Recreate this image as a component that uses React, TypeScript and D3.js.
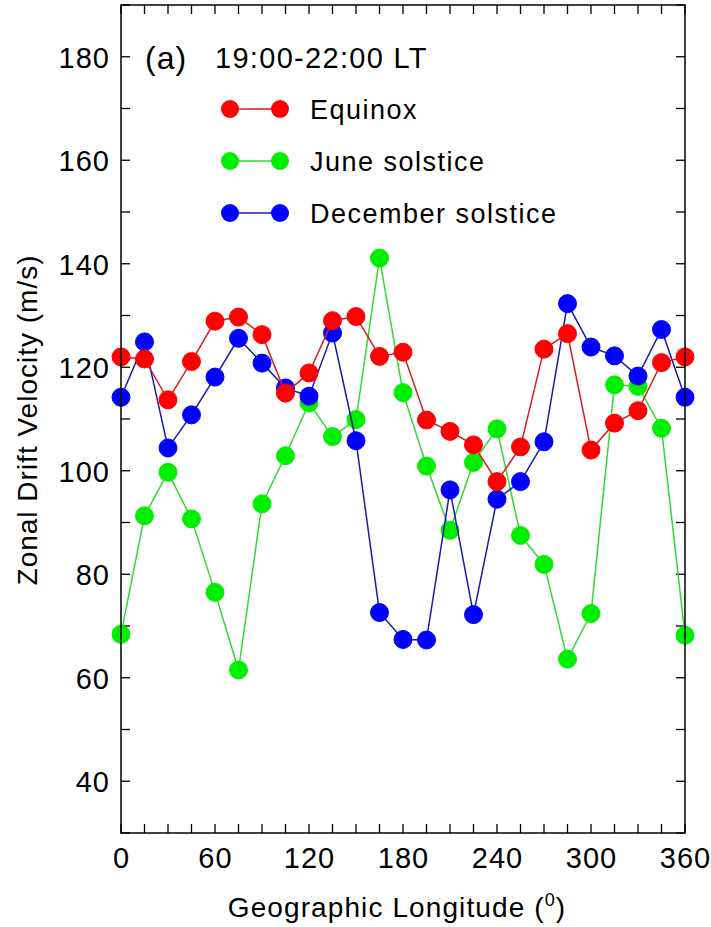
import React from 'react';
import * as d3 from 'd3';

// Longitudes every 15 degrees
const longitudes = d3.range(0, 361, 15);

const equinox = [122, 121.6, 113.7, 121.1, 128.9, 129.7, 126.3, 115, 118.9, 129, 129.8, 122.1, 122.9,
  109.8, 107.6, 105, 97.9, 104.6, 123.5, 126.5, 104, 109.2, 111.6, 120.9, 122];
const juneSolstice = [68.4, 91.3, 99.7, 90.7, 76.5, 61.5, 93.6, 102.9, 113.1, 106.6, 109.9, 141.1, 115.1,
  100.9, 88.5, 101.6, 108.1, 87.5, 81.9, 63.6, 72.4, 116.6, 116.3, 108.2, 68.2];
const decemberSolstice = [114.2, 124.9, 104.4, 110.8, 118.1, 125.6, 120.8, 116, 114.4, 126.6, 105.8, 72.6, 67.4,
  67.3, 96.3, 72.2, 94.5, 97.9, 105.6, 132.3, 123.9, 122.2, 118.3, 127.3, 114.2];

const seriesNames = ['Equinox', 'June solstice', 'December solstice'];
const xTickLabels = [0, 60, 120, 180, 240, 300, 360];
const yTickLabels = [40, 60, 80, 100, 120, 140, 160, 180];

const series = [
  { name: seriesNames[0], values: equinox, fill: '#ff0000', stroke: '#d02020' },
  { name: seriesNames[1], values: juneSolstice, fill: '#00ee00', stroke: '#33d833' },
  { name: seriesNames[2], values: decemberSolstice, fill: '#0000ff', stroke: '#1a1aa8' },
];

const left = 121, right = 685, top = 5, bottom = 833;
const FONT = 'Liberation Sans, Arial, sans-serif';

export default function App() {
  const x = d3.scaleLinear().domain([0, 360]).range([left, right]);
  const y = d3.scaleLinear().domain([30, 190]).range([bottom, top]);
  const line = d3.line<number>()
    .x((_, i) => x(longitudes[i]))
    .y(d => y(d));

  const xMinor = d3.range(0, 361, 15);
  const yMinor = d3.range(30, 191, 10);
  const tick = 9;

  // draw order: June (bottom), December, Equinox (top)
  const drawOrder = [series[1], series[2], series[0]];

  const legendY = [109, 161, 213];

  return (
    <svg width={711} height={927} style={{ position: 'absolute', left: 0, top: 0, background: '#fff' }}
      fontFamily={FONT}>
      <rect x={0} y={0} width={711} height={927} fill="#fff" />

      {/* ticks */}
      {xMinor.map(v => (
        <g key={'xt' + v}>
          <line x1={x(v)} x2={x(v)} y1={bottom} y2={bottom - tick} stroke="#000" strokeWidth={1.3} />
          <line x1={x(v)} x2={x(v)} y1={top} y2={top + tick} stroke="#000" strokeWidth={1.3} />
        </g>
      ))}
      {yMinor.map(v => (
        <g key={'yt' + v}>
          <line x1={left} x2={left + tick} y1={y(v)} y2={y(v)} stroke="#000" strokeWidth={1.3} />
          <line x1={right} x2={right - tick} y1={y(v)} y2={y(v)} stroke="#000" strokeWidth={1.3} />
        </g>
      ))}

      {/* data */}
      {drawOrder.map(s => (
        <g key={s.name}>
          <path d={line(s.values) || ''} fill="none" stroke={s.stroke} strokeWidth={1.5} />
          {s.values.map((v, i) => (
            <circle key={i} cx={x(longitudes[i])} cy={y(v)} r={9} fill={s.fill} stroke={s.fill} strokeWidth={1} />
          ))}
        </g>
      ))}

      {/* frame */}
      <rect x={left} y={top} width={right - left} height={bottom - top} fill="none" stroke="#000" strokeWidth={1.5} />

      {/* tick labels */}
      {xTickLabels.map(v => (
        <text key={'xl' + v} x={x(v) + 0.5} y={868} textAnchor="middle" fontSize={29} letterSpacing={1} fill="#000">{v}</text>
      ))}
      {yTickLabels.map(v => (
        <text key={'yl' + v} x={110} y={y(v) + 11} textAnchor="end" fontSize={29} letterSpacing={1} fill="#000">{v}</text>
      ))}

      {/* axis titles */}
      <text x={397} y={917} textAnchor="middle" fontSize={28} letterSpacing={1.1} fill="#000">
        Geographic Longitude (
        <tspan fontSize={18} dy={-11}>0</tspan>
        <tspan dy={11}>)</tspan>
      </text>
      <text transform="translate(37, 420) rotate(-90)" textAnchor="middle" fontSize={28} letterSpacing={1} fill="#000">
        Zonal Drift Velocity (m/s)
      </text>

      {/* panel label */}
      <text x={145} y={69} fontSize={32} letterSpacing={1} fill="#000">(a)</text>
      <text x={215} y={68} fontSize={29} letterSpacing={1.3} fill="#000">19:00-22:00 LT</text>

      {/* legend */}
      {series.map((s, i) => (
        <g key={'lg' + s.name}>
          <line x1={230} x2={280} y1={legendY[i]} y2={legendY[i]} stroke={s.stroke} strokeWidth={1.5} />
          <circle cx={230} cy={legendY[i]} r={9} fill={s.fill} />
          <circle cx={280} cy={legendY[i]} r={9} fill={s.fill} />
          <text x={310} y={legendY[i] + 10} fontSize={27} letterSpacing={1.5} fill="#000">{s.name}</text>
        </g>
      ))}
    </svg>
  );
}
